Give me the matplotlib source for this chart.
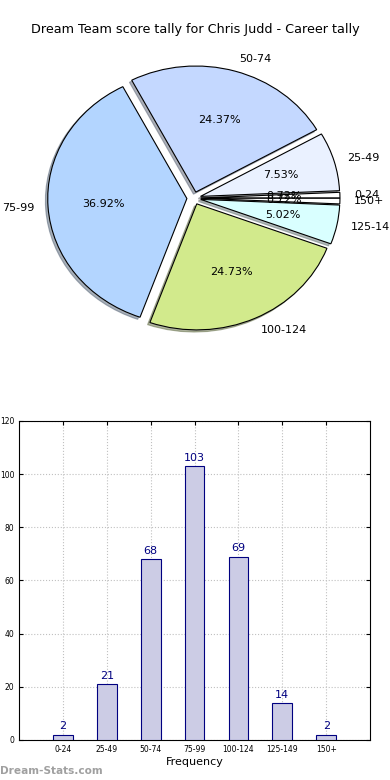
import matplotlib
matplotlib.use("Agg")
import matplotlib.pyplot as plt
import numpy as np

categories = ["0-24", "25-49", "50-74", "75-99", "100-124", "125-149", "150+"]
counts = [2, 21, 68, 103, 69, 14, 2]
pie_colors = ["#ffffff", "#eaf1ff", "#c4d8ff", "#b3d5ff", "#d2ea8c", "#d9ffff", "#ffffff"]

title = "Dream Team score tally for Chris Judd - Career tally"

fig = plt.figure(figsize=(3.9, 7.8), dpi=100)
fig.text(0.5, 1 - 30 / 780, title, ha="center", va="center", fontsize=9.2)

#%% pie
ax1 = fig.add_axes([0.051, 0.544, 0.892, 0.404])
wedges, texts, autotexts = ax1.pie(
    counts,
    labels=categories,
    colors=pie_colors,
    explode=[0.05] * len(counts),
    autopct="%.2f%%",
    shadow={"ox": -0.012, "oy": -0.012, "shade": 0.55},
    startangle=0,
    wedgeprops={"edgecolor": "k", "linewidth": 0.8},
    textprops={"fontsize": 8},
)
ax1.set_aspect("auto")
ax1.set_xlim(-1.25, 1.25)
ax1.set_ylim(-1.25, 1.25)

#%% bars
ax2 = fig.add_axes([0.049, 0.0513, 0.9, 0.409])
x = np.arange(len(categories))
ax2.bar(x, counts, width=0.45, color="#ccccE5", edgecolor="#000080", linewidth=0.8, zorder=3)
for xi, c in zip(x, counts):
    ax2.text(xi, c + 1.2, str(c), ha="center", va="bottom", fontsize=8, color="#000080")
ax2.set_xlim(-1, 7)
ax2.set_ylim(0, 120)
ax2.set_yticks(np.arange(0, 121, 20))
ax2.set_xticks(x)
ax2.set_xticklabels(categories)
ax2.tick_params(labelsize=5.5, direction="in", top=True, right=True, length=3)
ax2.grid(True, linestyle=":", color="#c0c0c0", linewidth=0.8, zorder=0)
ax2.set_axisbelow(True)
ax2.set_xlabel("Frequency", fontsize=8, labelpad=2)

fig.text(0.0, 1 - 771 / 780, "Dream-Stats.com", ha="left", va="center",
         fontsize=7.6, color="#a0a0a0", fontweight="bold")

fig.savefig("out.png", dpi=100)
